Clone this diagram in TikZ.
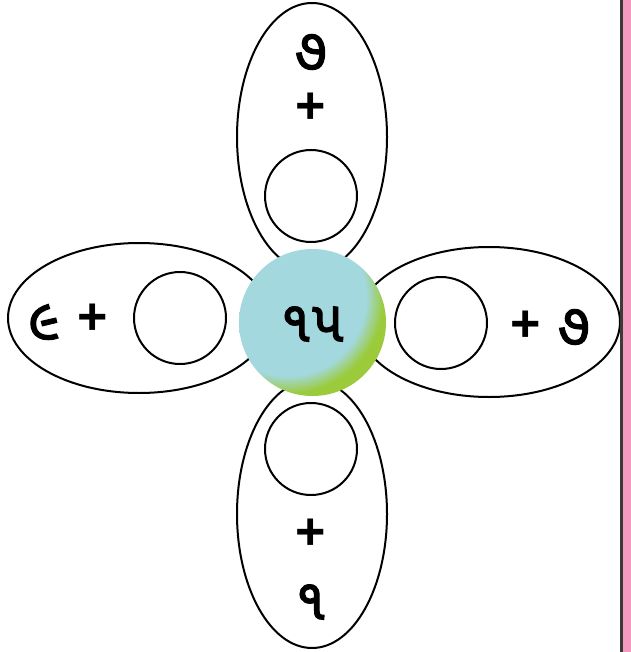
\documentclass[tikz,border=0pt]{standalone}
\usepackage{fontspec}
\usepackage{xcolor}
\usetikzlibrary{shapes.geometric}
\newfontfamily\gujfont[Script=Gujarati, FakeBold=1.8]{Noto Sans Gujarati UI}
\newfontfamily\plusfont{Liberation Sans}
\definecolor{ballblue}{HTML}{A3D8DE}
\definecolor{ballgreen}{HTML}{9BCB3B}
\definecolor{barpink}{HTML}{F49AC1}
\definecolor{bargray}{HTML}{3A3A3A}
\pgfdeclareradialshading{ballshade}{\pgfpointorigin}{color(0bp)=(ballblue); color(17.8bp)=(ballblue); color(21.8bp)=(ballgreen); color(50bp)=(ballgreen)}

\begin{document}
\begin{tikzpicture}[x=1pt, y=-1pt,
  petal/.style={draw, ellipse, line width=2pt, fill=white, inner sep=0pt},
  slot/.style={draw, circle, line width=2pt, minimum size=92pt, inner sep=0pt},
  digit/.style={font=\gujfont\fontsize{58}{58}\selectfont, inner sep=0pt},
  plus/.style={font=\plusfont\bfseries\fontsize{52}{52}\selectfont, inner sep=0pt},
]
  \useasboundingbox (0,0) rectangle (630,652);

  % petals
  \node[petal, minimum width=150pt, minimum height=268pt] (ptop) at (312,137) {};
  \node[petal, minimum width=150pt, minimum height=268pt] (pbottom) at (312,514) {};
  \node[petal, minimum width=262pt, minimum height=150pt] (pleft) at (139,318) {};
  \node[petal, minimum width=262pt, minimum height=150pt] (pright) at (489,322) {};

  % centre, lit from the upper left
  \node[circle, minimum size=147pt, inner sep=0pt] (centre) at (312.5,322.5) {};
  \begin{scope}
    \clip (centre.center) circle (73.5);
    \shade[shading=ballshade] ([shift={(-25,-25)}]centre.center) circle (110);
  \end{scope}
  \node[digit] (sum) at (312,324) {૧૫};

  % empty slots
  \node[slot] (stop) at (311,196) {};
  \node[slot] (sbottom) at (311,449) {};
  \node[slot] (sleft) at (180,318) {};
  \node[slot] (sright) at (441,323) {};

  % given numbers
  \node[digit] (ntop) at (311,52) {૭};
  \node[plus] (plustop) at (311,108) {+};
  \node[digit] (nleft) at (44,322) {૯};
  \node[plus] (plusleft) at (93,319) {+};
  \node[plus] (plusright) at (526,326) {+};
  \node[digit] (nright) at (574,327) {૭};
  \node[plus] (plusbottom) at (311,534) {+};
  \node[digit] (nbottom) at (311,602) {૧};

  % page edge
  \fill[barpink] (622,0) rectangle (631,652);
  \fill[bargray] (620,0) rectangle (622.5,652);
\end{tikzpicture}
\end{document}
